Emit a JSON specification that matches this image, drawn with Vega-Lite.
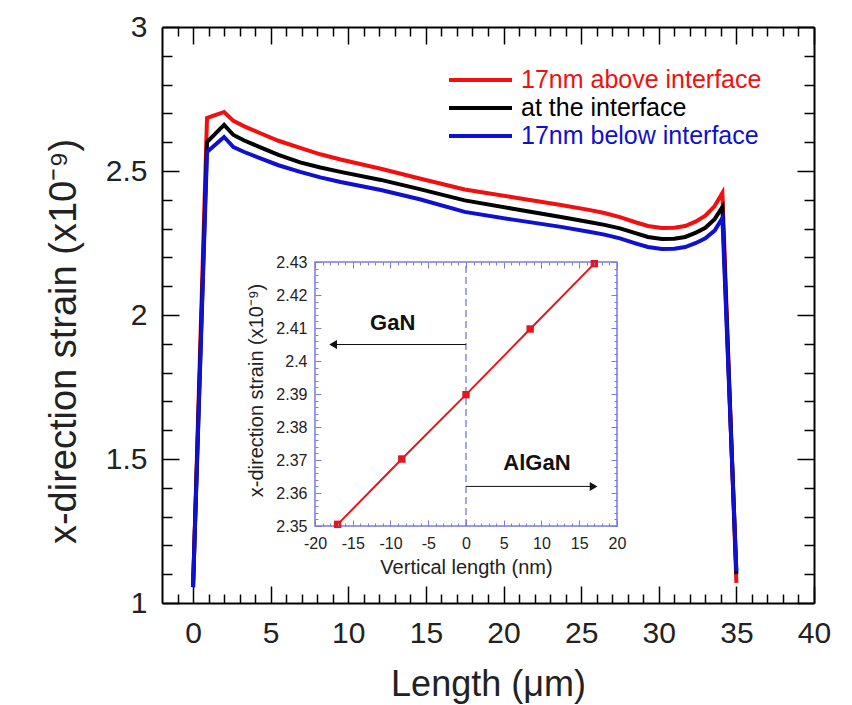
{
  "$schema": "https://vega.github.io/schema/vega-lite/v6.json",
  "width": 652,
  "height": 576,
  "autosize": {"type": "none"},
  "padding": {"left": 162, "top": 27, "right": 38, "bottom": 102},
  "background": "white",
  "config": {
    "font": "Liberation Sans",
    "view": {"stroke": null},
    "axis": {"grid": false, "labelFlush": false, "labelOverlap": false, "titleFontWeight": "normal"}
  },
  "datasets": {
    "main": [
      {"series": "17nm above interface", "x": 0, "v": 1.055},
      {"series": "17nm above interface", "x": 0.9, "v": 2.684},
      {"series": "17nm above interface", "x": 2.0, "v": 2.705},
      {"series": "17nm above interface", "x": 2.6, "v": 2.674},
      {"series": "17nm above interface", "x": 3.3, "v": 2.655},
      {"series": "17nm above interface", "x": 4.3, "v": 2.632},
      {"series": "17nm above interface", "x": 5.5, "v": 2.605},
      {"series": "17nm above interface", "x": 6.9, "v": 2.58},
      {"series": "17nm above interface", "x": 8.2, "v": 2.558},
      {"series": "17nm above interface", "x": 9.5, "v": 2.54},
      {"series": "17nm above interface", "x": 12.1, "v": 2.508},
      {"series": "17nm above interface", "x": 14.6, "v": 2.474},
      {"series": "17nm above interface", "x": 17.5, "v": 2.436},
      {"series": "17nm above interface", "x": 20.5, "v": 2.41},
      {"series": "17nm above interface", "x": 23.7, "v": 2.382},
      {"series": "17nm above interface", "x": 25.5, "v": 2.365},
      {"series": "17nm above interface", "x": 26.5, "v": 2.354},
      {"series": "17nm above interface", "x": 27.5, "v": 2.34},
      {"series": "17nm above interface", "x": 28.5, "v": 2.322},
      {"series": "17nm above interface", "x": 29.3, "v": 2.309},
      {"series": "17nm above interface", "x": 30.2, "v": 2.302},
      {"series": "17nm above interface", "x": 31.0, "v": 2.303},
      {"series": "17nm above interface", "x": 31.7, "v": 2.309},
      {"series": "17nm above interface", "x": 32.4, "v": 2.325},
      {"series": "17nm above interface", "x": 33.0, "v": 2.345},
      {"series": "17nm above interface", "x": 33.6, "v": 2.378},
      {"series": "17nm above interface", "x": 34.1, "v": 2.424},
      {"series": "17nm above interface", "x": 35.0, "v": 1.07},
      {"series": "at the interface", "x": 0, "v": 1.055},
      {"series": "at the interface", "x": 0.9, "v": 2.6},
      {"series": "at the interface", "x": 2.0, "v": 2.66},
      {"series": "at the interface", "x": 2.6, "v": 2.625},
      {"series": "at the interface", "x": 3.3, "v": 2.606},
      {"series": "at the interface", "x": 4.3, "v": 2.583},
      {"series": "at the interface", "x": 5.5, "v": 2.556},
      {"series": "at the interface", "x": 6.9, "v": 2.53},
      {"series": "at the interface", "x": 8.2, "v": 2.512},
      {"series": "at the interface", "x": 9.5, "v": 2.497},
      {"series": "at the interface", "x": 12.1, "v": 2.469},
      {"series": "at the interface", "x": 14.6, "v": 2.437},
      {"series": "at the interface", "x": 17.5, "v": 2.398},
      {"series": "at the interface", "x": 20.5, "v": 2.37},
      {"series": "at the interface", "x": 23.7, "v": 2.34},
      {"series": "at the interface", "x": 25.5, "v": 2.323},
      {"series": "at the interface", "x": 26.5, "v": 2.313},
      {"series": "at the interface", "x": 27.5, "v": 2.301},
      {"series": "at the interface", "x": 28.5, "v": 2.284},
      {"series": "at the interface", "x": 29.3, "v": 2.271},
      {"series": "at the interface", "x": 30.2, "v": 2.264},
      {"series": "at the interface", "x": 31.0, "v": 2.265},
      {"series": "at the interface", "x": 31.7, "v": 2.271},
      {"series": "at the interface", "x": 32.4, "v": 2.286},
      {"series": "at the interface", "x": 33.0, "v": 2.303},
      {"series": "at the interface", "x": 33.6, "v": 2.333},
      {"series": "at the interface", "x": 34.1, "v": 2.375},
      {"series": "at the interface", "x": 35.0, "v": 1.1},
      {"series": "17nm below interface", "x": 0, "v": 1.055},
      {"series": "17nm below interface", "x": 0.9, "v": 2.566},
      {"series": "17nm below interface", "x": 2.0, "v": 2.618},
      {"series": "17nm below interface", "x": 2.6, "v": 2.583},
      {"series": "17nm below interface", "x": 3.3, "v": 2.566},
      {"series": "17nm below interface", "x": 4.3, "v": 2.545},
      {"series": "17nm below interface", "x": 5.5, "v": 2.52},
      {"series": "17nm below interface", "x": 6.9, "v": 2.497},
      {"series": "17nm below interface", "x": 8.2, "v": 2.478},
      {"series": "17nm below interface", "x": 9.5, "v": 2.462},
      {"series": "17nm below interface", "x": 12.1, "v": 2.434},
      {"series": "17nm below interface", "x": 14.6, "v": 2.402},
      {"series": "17nm below interface", "x": 17.5, "v": 2.358},
      {"series": "17nm below interface", "x": 20.5, "v": 2.332},
      {"series": "17nm below interface", "x": 23.7, "v": 2.306},
      {"series": "17nm below interface", "x": 25.5, "v": 2.289},
      {"series": "17nm below interface", "x": 26.5, "v": 2.279},
      {"series": "17nm below interface", "x": 27.5, "v": 2.266},
      {"series": "17nm below interface", "x": 28.5, "v": 2.249},
      {"series": "17nm below interface", "x": 29.3, "v": 2.236},
      {"series": "17nm below interface", "x": 30.2, "v": 2.229},
      {"series": "17nm below interface", "x": 31.0, "v": 2.23},
      {"series": "17nm below interface", "x": 31.7, "v": 2.236},
      {"series": "17nm below interface", "x": 32.4, "v": 2.25},
      {"series": "17nm below interface", "x": 33.0, "v": 2.266},
      {"series": "17nm below interface", "x": 33.6, "v": 2.293},
      {"series": "17nm below interface", "x": 34.1, "v": 2.337},
      {"series": "17nm below interface", "x": 35.0, "v": 1.11}
    ],
    "inset": [
      {"d": -17, "s": 2.3505},
      {"d": -8.5, "s": 2.3703},
      {"d": 0, "s": 2.3898},
      {"d": 8.5, "s": 2.4097},
      {"d": 17, "s": 2.4295}
    ],
    "notes": [
      {"label": "GaN", "from": 0, "to": -17.6, "at": 2.405, "tx": -9.7, "ty": 2.4115},
      {"label": "AlGaN", "from": 0, "to": 16.9, "at": 2.362, "tx": 9.4, "ty": 2.369}
    ]
  },
  "layer": [
    {
      "layer": [
        {
          "data": {"name": "main"},
          "mark": {"type": "line", "strokeWidth": 4, "strokeJoin": "miter", "interpolate": "linear"},
          "encoding": {
            "x": {"field": "x", "type": "quantitative",
              "scale": {"domain": [-2, 40], "nice": false, "zero": false},
              "axis": {"orient": "bottom", "values": [0,5,10,15,20,25,30,35,40], "tickSize": -17, "tickWidth": 1.5, "tickColor": "#000", "domainColor": "#000", "domainWidth": 2,
                "labelFontSize": 30, "labelColor": "#222", "labelPadding": 32, "labelExpr": "'' + datum.value",
                "title": "Length (μm)", "titleFontSize": 36, "titleColor": "#222", "titleBaseline": "alphabetic", "titleX": 326, "titleY": 92}},
            "y": {"field": "v", "type": "quantitative",
              "scale": {"domain": [1, 3], "nice": false, "zero": false},
              "axis": {"orient": "left", "values": [1,1.5,2,2.5,3], "tickSize": -17, "tickWidth": 1.5, "tickColor": "#000", "domainColor": "#000", "domainWidth": 2,
                "labelFontSize": 30, "labelColor": "#222", "labelPadding": 32, "labelExpr": "'' + datum.value",
                "title": "x-direction strain (x10⁻⁹)", "titleFontSize": 38, "titleColor": "#222", "titleBaseline": "alphabetic", "titleAlign": "center", "titleAngle": -90, "titleX": -87, "titleY": 314}},
            "color": {"field": "series", "type": "nominal",
              "scale": {"domain": ["17nm above interface", "at the interface", "17nm below interface"], "range": ["#f01010", "#000000", "#1010d0"]},
              "legend": {"orient": "none", "legendX": 285, "legendY": 41, "title": null, "symbolType": "stroke", "symbolSize": 3969, "symbolStrokeWidth": 4,
                "labelFontSize": 25, "labelOffset": 7, "labelLimit": 0, "clipHeight": 24, "rowPadding": 3, "padding": 0,
                "encode": {"labels": {"update": {"fill": [
                  {"test": "datum.label === '17nm above interface'", "value": "#f01010"},
                  {"test": "datum.label === '17nm below interface'", "value": "#1010d0"},
                  {"value": "#000000"}]}}}}}
          }
        },
        {
          "data": {"name": "main"},
          "mark": {"type": "point", "opacity": 0},
          "encoding": {
            "x": {"field": "x", "type": "quantitative", "scale": {"domain": [-2, 40], "nice": false, "zero": false},
              "axis": {"orient": "bottom", "values": [-1,1,2,3,4,6,7,8,9,11,12,13,14,16,17,18,19,21,22,23,24,26,27,28,29,31,32,33,34,36,37,38,39], "tickSize": -9, "tickWidth": 1.5, "tickColor": "#000", "domain": false, "labels": false, "title": null}},
            "y": {"field": "v", "type": "quantitative", "scale": {"domain": [1, 3], "nice": false, "zero": false},
              "axis": {"orient": "left", "values": [1.1,1.2,1.3,1.4,1.6,1.7,1.8,1.9,2.1,2.2,2.3,2.4,2.6,2.7,2.8,2.9], "tickSize": -10, "tickWidth": 1.5, "tickColor": "#000", "domain": false, "labels": false, "title": null}}
          }
        },
        {
          "data": {"name": "main"},
          "mark": {"type": "point", "opacity": 0},
          "encoding": {
            "x": {"field": "x", "type": "quantitative", "scale": {"domain": [-2, 40], "nice": false, "zero": false},
              "axis": {"orient": "top", "values": [0,5,10,15,20,25,30,35,40], "tickSize": -17, "tickWidth": 1.5, "tickColor": "#000", "domainColor": "#000", "domainWidth": 2, "labels": false, "title": null}},
            "y": {"field": "v", "type": "quantitative", "scale": {"domain": [1, 3], "nice": false, "zero": false},
              "axis": {"orient": "right", "values": [1,1.5,2,2.5,3], "tickSize": -17, "tickWidth": 1.5, "tickColor": "#000", "domainColor": "#000", "domainWidth": 2, "labels": false, "title": null}}
          }
        },
        {
          "data": {"name": "main"},
          "mark": {"type": "point", "opacity": 0},
          "encoding": {
            "x": {"field": "x", "type": "quantitative", "scale": {"domain": [-2, 40], "nice": false, "zero": false},
              "axis": {"orient": "top", "values": [-1,1,2,3,4,6,7,8,9,11,12,13,14,16,17,18,19,21,22,23,24,26,27,28,29,31,32,33,34,36,37,38,39], "tickSize": -9, "tickWidth": 1.5, "tickColor": "#000", "domain": false, "labels": false, "title": null}},
            "y": {"field": "v", "type": "quantitative", "scale": {"domain": [1, 3], "nice": false, "zero": false},
              "axis": {"orient": "right", "values": [1.1,1.2,1.3,1.4,1.6,1.7,1.8,1.9,2.1,2.2,2.3,2.4,2.6,2.7,2.8,2.9], "tickSize": -10, "tickWidth": 1.5, "tickColor": "#000", "domain": false, "labels": false, "title": null}}
          }
        }
      ],
      "resolve": {"axis": {"x": "independent", "y": "independent"}}
    },
    {
      "layer": [
        {
          "data": {"values": [{"frame": "inset"}]},
          "mark": {"type": "rect", "fill": "white", "stroke": "#7a7ae2", "strokeWidth": 1.5},
          "encoding": {
            "x": {"datum": -20, "type": "quantitative", "scale": {"domain": [-40.26, 46.09], "nice": false, "zero": false},
              "axis": {"orient": "bottom", "offset": -77, "zindex": 1, "values": [-20,-15,-10,-5,0,5,10,15,20], "tickSize": -6, "tickWidth": 1, "tickColor": "#7a7ae2", "domain": false,
                "labelFontSize": 16, "labelColor": "#222", "labelPadding": 15, "labelExpr": "'' + datum.value",
                "title": "Vertical length (nm)", "titleFontSize": 20, "titleColor": "#222", "titleBaseline": "alphabetic", "titleX": 304, "titleY": 47}},
            "x2": {"datum": 20},
            "y": {"datum": 2.35, "type": "quantitative", "scale": {"domain": [2.32667, 2.50121], "nice": false, "zero": false},
              "axis": {"orient": "left", "offset": -153, "zindex": 1, "values": [2.35,2.36,2.37,2.38,2.39,2.4,2.41,2.42,2.43], "tickSize": -6, "tickWidth": 1, "tickColor": "#7a7ae2", "domain": false,
                "labelFontSize": 16, "labelColor": "#222", "labelPadding": 14, "labelExpr": "'' + datum.value",
                "title": "x-direction strain (x10⁻⁹)", "titleFontSize": 20, "titleColor": "#222", "titleBaseline": "alphabetic", "titleAlign": "center", "titleAngle": -90, "titleX": -53, "titleY": 363}},
            "y2": {"datum": 2.43}
          }
        },
        {
          "data": {"values": [{"frame": "interface"}]},
          "mark": {"type": "rule", "stroke": "#3a5ab8", "strokeWidth": 1, "strokeDash": [7, 4]},
          "encoding": {
            "x": {"datum": 0, "type": "quantitative", "scale": {"domain": [-40.26, 46.09], "nice": false, "zero": false},
              "axis": {"orient": "bottom", "offset": -77, "zindex": 1, "values": [-19,-18,-17,-16,-14,-13,-12,-11,-9,-8,-7,-6,-4,-3,-2,-1,1,2,3,4,6,7,8,9,11,12,13,14,16,17,18,19], "tickSize": -3, "tickWidth": 1, "tickColor": "#7a7ae2", "domain": false, "labels": false, "title": null}},
            "y": {"datum": 2.35, "type": "quantitative", "scale": {"domain": [2.32667, 2.50121], "nice": false, "zero": false},
              "axis": {"orient": "left", "offset": -153, "zindex": 1, "values": [2.352,2.354,2.356,2.358,2.362,2.364,2.366,2.368,2.372,2.374,2.376,2.378,2.382,2.384,2.386,2.388,2.392,2.394,2.396,2.398,2.402,2.404,2.406,2.408,2.412,2.414,2.416,2.418,2.422,2.424,2.426,2.428], "tickSize": -3, "tickWidth": 1, "tickColor": "#7a7ae2", "domain": false, "labels": false, "title": null}},
            "y2": {"datum": 2.43}
          }
        },
        {
          "data": {"name": "inset"},
          "mark": {"type": "line", "stroke": "#e8141c", "strokeWidth": 2},
          "encoding": {
            "x": {"field": "d", "type": "quantitative", "scale": {"domain": [-40.26, 46.09], "nice": false, "zero": false},
              "axis": {"orient": "top", "offset": -235, "zindex": 1, "values": [-20,-15,-10,-5,0,5,10,15,20], "tickSize": -6, "tickWidth": 1, "tickColor": "#7a7ae2", "domain": false, "labels": false, "title": null}},
            "y": {"field": "s", "type": "quantitative", "scale": {"domain": [2.32667, 2.50121], "nice": false, "zero": false},
              "axis": {"orient": "right", "offset": -197, "zindex": 1, "values": [2.35,2.36,2.37,2.38,2.39,2.4,2.41,2.42,2.43], "tickSize": -6, "tickWidth": 1, "tickColor": "#7a7ae2", "domain": false, "labels": false, "title": null}}
          }
        },
        {
          "data": {"name": "inset"},
          "mark": {"type": "point", "shape": "square", "filled": true, "fill": "#e8141c", "size": 55, "opacity": 1},
          "encoding": {
            "x": {"field": "d", "type": "quantitative", "scale": {"domain": [-40.26, 46.09], "nice": false, "zero": false},
              "axis": {"orient": "top", "offset": -235, "zindex": 1, "values": [-19,-18,-17,-16,-14,-13,-12,-11,-9,-8,-7,-6,-4,-3,-2,-1,1,2,3,4,6,7,8,9,11,12,13,14,16,17,18,19], "tickSize": -3, "tickWidth": 1, "tickColor": "#7a7ae2", "domain": false, "labels": false, "title": null}},
            "y": {"field": "s", "type": "quantitative", "scale": {"domain": [2.32667, 2.50121], "nice": false, "zero": false},
              "axis": {"orient": "right", "offset": -197, "zindex": 1, "values": [2.352,2.354,2.356,2.358,2.362,2.364,2.366,2.368,2.372,2.374,2.376,2.378,2.382,2.384,2.386,2.388,2.392,2.394,2.396,2.398,2.402,2.404,2.406,2.408,2.412,2.414,2.416,2.418,2.422,2.424,2.426,2.428], "tickSize": -3, "tickWidth": 1, "tickColor": "#7a7ae2", "domain": false, "labels": false, "title": null}}
          }
        },
        {
          "data": {"name": "notes"},
          "mark": {"type": "rule", "stroke": "#111", "strokeWidth": 1},
          "encoding": {
            "x": {"field": "from", "type": "quantitative", "scale": {"domain": [-40.26, 46.09], "nice": false, "zero": false}, "axis": null},
            "x2": {"field": "to"},
            "y": {"field": "at", "type": "quantitative", "scale": {"domain": [2.32667, 2.50121], "nice": false, "zero": false}, "axis": null}
          }
        },
        {
          "data": {"name": "notes"},
          "mark": {"type": "point", "filled": true, "fill": "#111", "size": 80, "opacity": 1},
          "encoding": {
            "x": {"field": "to", "type": "quantitative", "scale": {"domain": [-40.26, 46.09], "nice": false, "zero": false}, "axis": null},
            "y": {"field": "at", "type": "quantitative", "scale": {"domain": [2.32667, 2.50121], "nice": false, "zero": false}, "axis": null},
            "shape": {"field": "label", "type": "nominal", "scale": {"domain": ["GaN", "AlGaN"], "range": ["triangle-left", "triangle-right"]}, "legend": null}
          }
        },
        {
          "data": {"name": "notes"},
          "mark": {"type": "text", "fontSize": 22, "fontWeight": "bold", "fill": "#111", "align": "center", "baseline": "middle"},
          "encoding": {
            "x": {"field": "tx", "type": "quantitative", "scale": {"domain": [-40.26, 46.09], "nice": false, "zero": false}, "axis": null},
            "y": {"field": "ty", "type": "quantitative", "scale": {"domain": [2.32667, 2.50121], "nice": false, "zero": false}, "axis": null},
            "text": {"field": "label"}
          }
        }
      ],
      "resolve": {"axis": {"x": "independent", "y": "independent"}}
    }
  ],
  "resolve": {
    "scale": {"x": "independent", "y": "independent"},
    "axis": {"x": "independent", "y": "independent"}
  }
}
